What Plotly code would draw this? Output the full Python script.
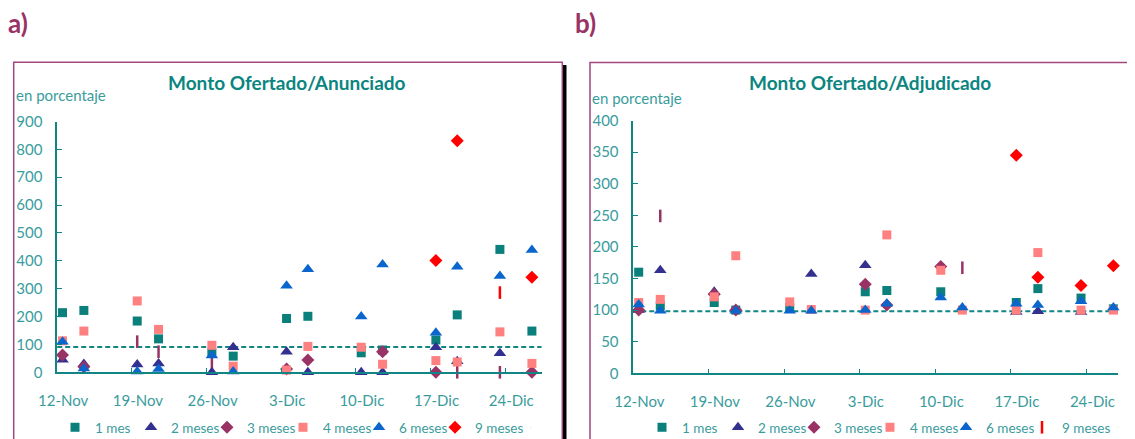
import plotly.graph_objects as go
from datetime import datetime, timedelta

# ---------------- data ----------------
fechas = ["2001-11-12", "2001-11-14", "2001-11-19", "2001-11-21", "2001-11-26", "2001-11-28",
          "2001-12-03", "2001-12-05", "2001-12-10", "2001-12-12", "2001-12-17", "2001-12-19",
          "2001-12-23", "2001-12-26"]
tick_fechas = ["2001-11-12", "2001-11-19", "2001-11-26", "2001-12-03", "2001-12-10", "2001-12-17", "2001-12-24"]
tick_labels = ["12-Nov", "19-Nov", "26-Nov", "3-Dic", "10-Dic", "17-Dic", "24-Dic"]

N = None
# Panel a) Monto Ofertado/Anunciado
a_1mes   = [214, 222, 184, 120, 70, 58, 193, 201, 70, 80, 116, 206, 441, 148]
a_2meses = [45, 30, 28, 32, 0, 90, 74, 0, 0, 0, 90, 40, 68, N]
a_3meses = [62, 20, N, N, N, N, 12, 44, N, 74, 0, N, N, 0]
a_4meses = [113, 148, 256, 154, 97, 22, 8, 93, 90, 29, 42, 37, 145, 32]
a_6meses = [110, 14, 3, 12, 60, 3, 311, 370, 200, 387, 142, 379, 346, 439]
a_9meses = [N, N, N, N, N, N, N, N, N, N, 401, 831, N, 341]
a_otros_morado = [N, N, 110, 74, 32, N, N, N, N, N, N, 0, 0, N]
a_otros_rojo   = [N, N, N, N, N, N, N, N, N, N, N, N, 286, N]
a_referencia = 91

# Panel b) Monto Ofertado/Adjudicado
b_1mes   = [160, 107, 112, 100, 104, N, 129, 131, 129, N, 112, 134, 119, 102]
b_2meses = [100, 163, 129, N, N, 157, 171, N, N, N, 97, 98, 97, N]
b_3meses = [100, N, 125, 100, N, N, 141, 108, 169, N, N, N, N, N]
b_4meses = [112, 117, 121, 186, 113, 101, 100, 219, 163, 100, 100, 191, 100, 100]
b_6meses = [109, 99, N, 99, 99, 99, 100, 110, 120, 104, 110, 108, 114, 104]
b_otros_rojo   = [N, N, N, N, N, N, N, N, N, N, 345, 152, 139, 170]
b_otros_morado = [N, 249, N, N, N, N, N, N, N, 167, N, N, N, N]
b_referencia = 98

# ---------------- styling ----------------
W, H = 1135, 439
OFF = 8  # default page margin around the figure
TEAL = "#128585"
TXT = "#3a9c9c"
FONT = "Lato, 'Open Sans', sans-serif"
DAY_MS = 86400000

def px(x):
    return (x - OFF) / W

def py(y):
    return (H - (y - OFF)) / H

styles = {
    "1 mes":   dict(symbol="square", size=9, color="#0b7f7b"),
    "2 meses": dict(symbol="triangle-up", size=11, color="#33308f"),
    "3 meses": dict(symbol="diamond", size=10, color="#993366"),
    "4 meses": dict(symbol="square", size=9, color="#ff8080"),
    "6 meses": dict(symbol="triangle-up", size=11, color="#0a66cc"),
    "9 meses": dict(symbol="diamond", size=10, color="#ff0000"),
}

fig = go.Figure()

def add(name, ys, xa, ya, legend, style, show=True):
    mk = dict(symbol=style["symbol"], size=style["size"], color=style["color"])
    if style["symbol"] == "line-ns":
        mk["line"] = dict(color=style["color"], width=2.5)
    fig.add_trace(go.Scatter(
        x=fechas, y=ys, mode="markers", name=name, marker=mk,
        xaxis=xa, yaxis=ya, legend=legend, showlegend=show,
        xperiod=DAY_MS, xperiodalignment="middle", cliponaxis=False,
    ))

def spacer(xa, ya, legend):
    # invisible trailing legend entry so the last label is not clipped
    fig.add_trace(go.Scatter(
        x=[fechas[0]], y=[-1000], mode="markers", name=" ",
        marker=dict(size=1, opacity=0), xaxis=xa, yaxis=ya, legend=legend,
        showlegend=True, cliponaxis=True, hoverinfo="skip",
    ))

dash_morado = dict(symbol="line-ns", size=9, color="#993366")
dash_rojo = dict(symbol="line-ns", size=9, color="#ff0000")

# panel a
add("otros", a_otros_morado, "x", "y", "legend", dash_morado, False)
add("otros", a_otros_rojo, "x", "y", "legend", dash_rojo, False)
for name, ys in [("1 mes", a_1mes), ("2 meses", a_2meses), ("3 meses", a_3meses),
                 ("4 meses", a_4meses), ("6 meses", a_6meses), ("9 meses", a_9meses)]:
    add(name, ys, "x", "y", "legend", styles[name])
spacer("x", "y", "legend")

# panel b
add("otros", b_otros_morado, "x2", "y2", "legend2", dash_morado, False)
for name, ys in [("1 mes", b_1mes), ("2 meses", b_2meses), ("3 meses", b_3meses),
                 ("4 meses", b_4meses), ("6 meses", b_6meses)]:
    add(name, ys, "x2", "y2", "legend2", styles[name])
add("otros", b_otros_rojo, "x2", "y2", "legend2", styles["9 meses"], False)
# legend entry of panel b: "9 meses" is shown with a red dash (no visible points)
fig.add_trace(go.Scatter(
    x=[fechas[0]], y=[-1000], mode="markers", name="9 meses",
    marker=dict(symbol="line-ns", size=9, color="#ff0000", line=dict(color="#ff0000", width=2.5)),
    xaxis="x2", yaxis="y2", legend="legend2", showlegend=True, cliponaxis=True,
))
spacer("x2", "y2", "legend2")

start = datetime(2001, 11, 12)

def xaxis(domain, span_days, anchor):
    end = start + timedelta(days=span_days)
    return dict(
        domain=domain, type="date", anchor=anchor,
        range=[start.strftime("%Y-%m-%d"), end.strftime("%Y-%m-%d %H:%M")],
        tickmode="array", tickvals=tick_fechas, ticktext=tick_labels,
        ticks="inside", ticklen=5, tickcolor=TEAL, tickwidth=1,
        ticklabelshift=6, ticklabelstandoff=14,
        showline=True, linecolor=TEAL, linewidth=1.5,
        showgrid=False, zeroline=False, automargin=False,
        tickfont=dict(family=FONT, size=15, color=TXT),
    )

def yaxis(domain, rng, dtick, anchor):
    return dict(
        domain=domain, range=rng, dtick=dtick, anchor=anchor,
        ticks="inside", ticklen=5, tickcolor=TEAL, tickwidth=1,
        ticklabelstandoff=10,
        showline=True, linecolor=TEAL, linewidth=1.5,
        showgrid=False, zeroline=False, automargin=False,
        tickfont=dict(family=FONT, size=15, color=TXT),
    )

legend_common = dict(orientation="h", xanchor="left", yanchor="middle",
                     font=dict(family=FONT, size=13.5, color=TXT), itemwidth=30,
                     entrywidth=31, entrywidthmode="pixels",
                     bgcolor="rgba(0,0,0,0)", traceorder="normal")

fig.update_layout(
    width=W, height=H, margin=dict(l=0, r=0, t=0, b=0, autoexpand=False),
    paper_bgcolor="white", plot_bgcolor="rgba(0,0,0,0)",
    xaxis=xaxis([px(57.2), px(541.5)], 45.4, "y"),
    yaxis=yaxis([py(372.3), py(121.5)], [0, 900], 100, "x"),
    xaxis2=xaxis([px(633.3), px(1117.7)], 44.9, "y2"),
    yaxis2=yaxis([py(373.3), py(120.5)], [0, 400], 50, "x2"),
    legend=dict(legend_common, x=px(55), y=py(427.5)),
    legend2=dict(legend_common, x=px(642), y=py(427.5)),
    showlegend=True,
)

# reference dashed lines
for xr, yr, val in [("x domain", "y", a_referencia), ("x2 domain", "y2", b_referencia)]:
    fig.add_shape(type="line", xref=xr, yref=yr, x0=0, x1=1, y0=val, y1=val,
                  line=dict(color=TEAL, width=2, dash="5px,3px"), layer="below")

# frames
BORDER = "#a3477f"
fig.add_shape(type="rect", xref="paper", yref="paper", x0=px(13.7), x1=px(562.3),
              y0=-0.1, y1=py(62.3), line=dict(color=BORDER, width=1.5), layer="below")
fig.add_shape(type="rect", xref="paper", yref="paper", x0=px(563), x1=px(566.5),
              y0=-0.1, y1=py(65), line=dict(width=0), fillcolor="black", layer="below")
fig.add_shape(type="rect", xref="paper", yref="paper", x0=px(590), x1=1.1,
              y0=-0.1, y1=py(62.5), line=dict(color=BORDER, width=1.5), layer="below")

# texts
def ann(text, x, y, size, color, xanchor="left", bold=False):
    fig.add_annotation(text=f"<b>{text}</b>" if bold else text, x=x, y=y, xref="paper", yref="paper",
                       xanchor=xanchor, yanchor="middle", showarrow=False,
                       font=dict(family=FONT, size=size, color=color))

ann("a)", px(6), py(23), 26, "#993366", bold=True)
ann("b)", px(573), py(23), 26, "#993366", bold=True)
ann("Monto Ofertado/Anunciado", px(287), py(82), 19, "#0b857f", "center", True)
ann("Monto Ofertado/Adjudicado", px(870), py(82), 19, "#0b857f", "center", True)
ann("en porcentaje", px(14), py(95), 15, TXT)
ann("en porcentaje", px(590), py(98), 15, TXT)

fig.write_html("out.html")
